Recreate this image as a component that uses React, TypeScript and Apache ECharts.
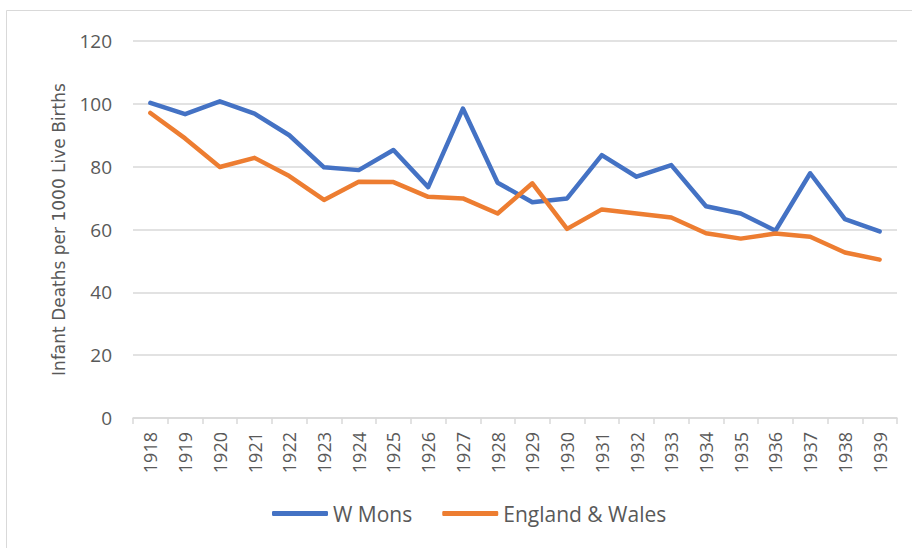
import React, { useEffect, useRef } from "react";
import * as echarts from "echarts";

const years = [
  "1918", "1919", "1920", "1921", "1922", "1923", "1924", "1925", "1926", "1927", "1928",
  "1929", "1930", "1931", "1932", "1933", "1934", "1935", "1936", "1937", "1938", "1939",
];
const wMons = [
  100.3, 96.7, 100.8, 96.9, 90.0, 79.8, 78.9, 85.3, 73.5, 98.5, 74.9,
  68.7, 69.9, 83.7, 76.8, 80.5, 67.4, 65.1, 59.6, 77.9, 63.3, 59.4,
];
const englandWales = [
  97.1, 89.0, 79.9, 82.8, 77.0, 69.4, 75.2, 75.1, 70.4, 69.9, 65.1,
  74.7, 60.2, 66.4, 65.1, 63.8, 58.8, 57.1, 58.7, 57.7, 52.7, 50.4,
];
const seriesNames = ["W Mons", "England & Wales"];
const yAxisName = "Infant Deaths per 1000 Live Births";

export default function App() {
  const ref = useRef<HTMLDivElement>(null);
  useEffect(() => {
    document.body.style.margin = "0";
    if (!ref.current) return;
    const chart = echarts.init(ref.current, null, { renderer: "svg" });
    const font = "'Open Sans', 'Liberation Sans', sans-serif";
    chart.setOption({
      animation: false,
      backgroundColor: "#ffffff",
      textStyle: { fontFamily: font },
      graphic: [
        {
          type: "rect",
          shape: { x: 6.5, y: 10.5, width: 1200, height: 1000 },
          style: { fill: "none", stroke: "#d9d9d9", lineWidth: 1 },
          silent: true,
        },
      ],
      grid: { left: 133, right: 15, top: 41, bottom: 130, containLabel: false },
      legend: {
        left: 272,
        top: 503,
        padding: 0,
        itemWidth: 56,
        itemHeight: 5,
        itemGap: 30,
        icon: "roundRect",
        textStyle: { color: "#595959", fontSize: 21, fontFamily: font },
        data: seriesNames,
      },
      xAxis: {
        type: "category",
        data: years,
        boundaryGap: true,
        axisLine: { lineStyle: { color: "#d9d9d9", width: 1.5 } },
        axisTick: { show: true, length: 6, lineStyle: { color: "#d9d9d9", width: 1.5 } },
        axisLabel: {
          interval: 0,
          rotate: 90,
          margin: 14,
          color: "#595959",
          fontSize: 18,
          fontFamily: font,
        },
      },
      yAxis: {
        type: "value",
        min: 0,
        max: 120,
        interval: 20,
        name: yAxisName,
        nameLocation: "middle",
        nameGap: 66,
        nameTextStyle: { color: "#595959", fontSize: 17, fontFamily: "'DejaVu Sans', sans-serif" },
        axisLine: { show: false },
        axisTick: { show: false },
        axisLabel: { margin: 21, color: "#595959", fontSize: 19, fontFamily: font },
        splitLine: { lineStyle: { color: "#d9d9d9", width: 1.5 } },
      },
      series: [
        {
          name: seriesNames[0],
          type: "line",
          data: wMons,
          showSymbol: false,
          symbol: "none",
          color: "#4472C4",
          lineStyle: { color: "#4472C4", width: 4.5, cap: "round", join: "round" },
        },
        {
          name: seriesNames[1],
          type: "line",
          data: englandWales,
          showSymbol: false,
          symbol: "none",
          color: "#ED7D31",
          lineStyle: { color: "#ED7D31", width: 4.5, cap: "round", join: "round" },
        },
      ],
    });
    return () => chart.dispose();
  }, []);
  return <div ref={ref} style={{ width: 912, height: 548 }} />;
}
